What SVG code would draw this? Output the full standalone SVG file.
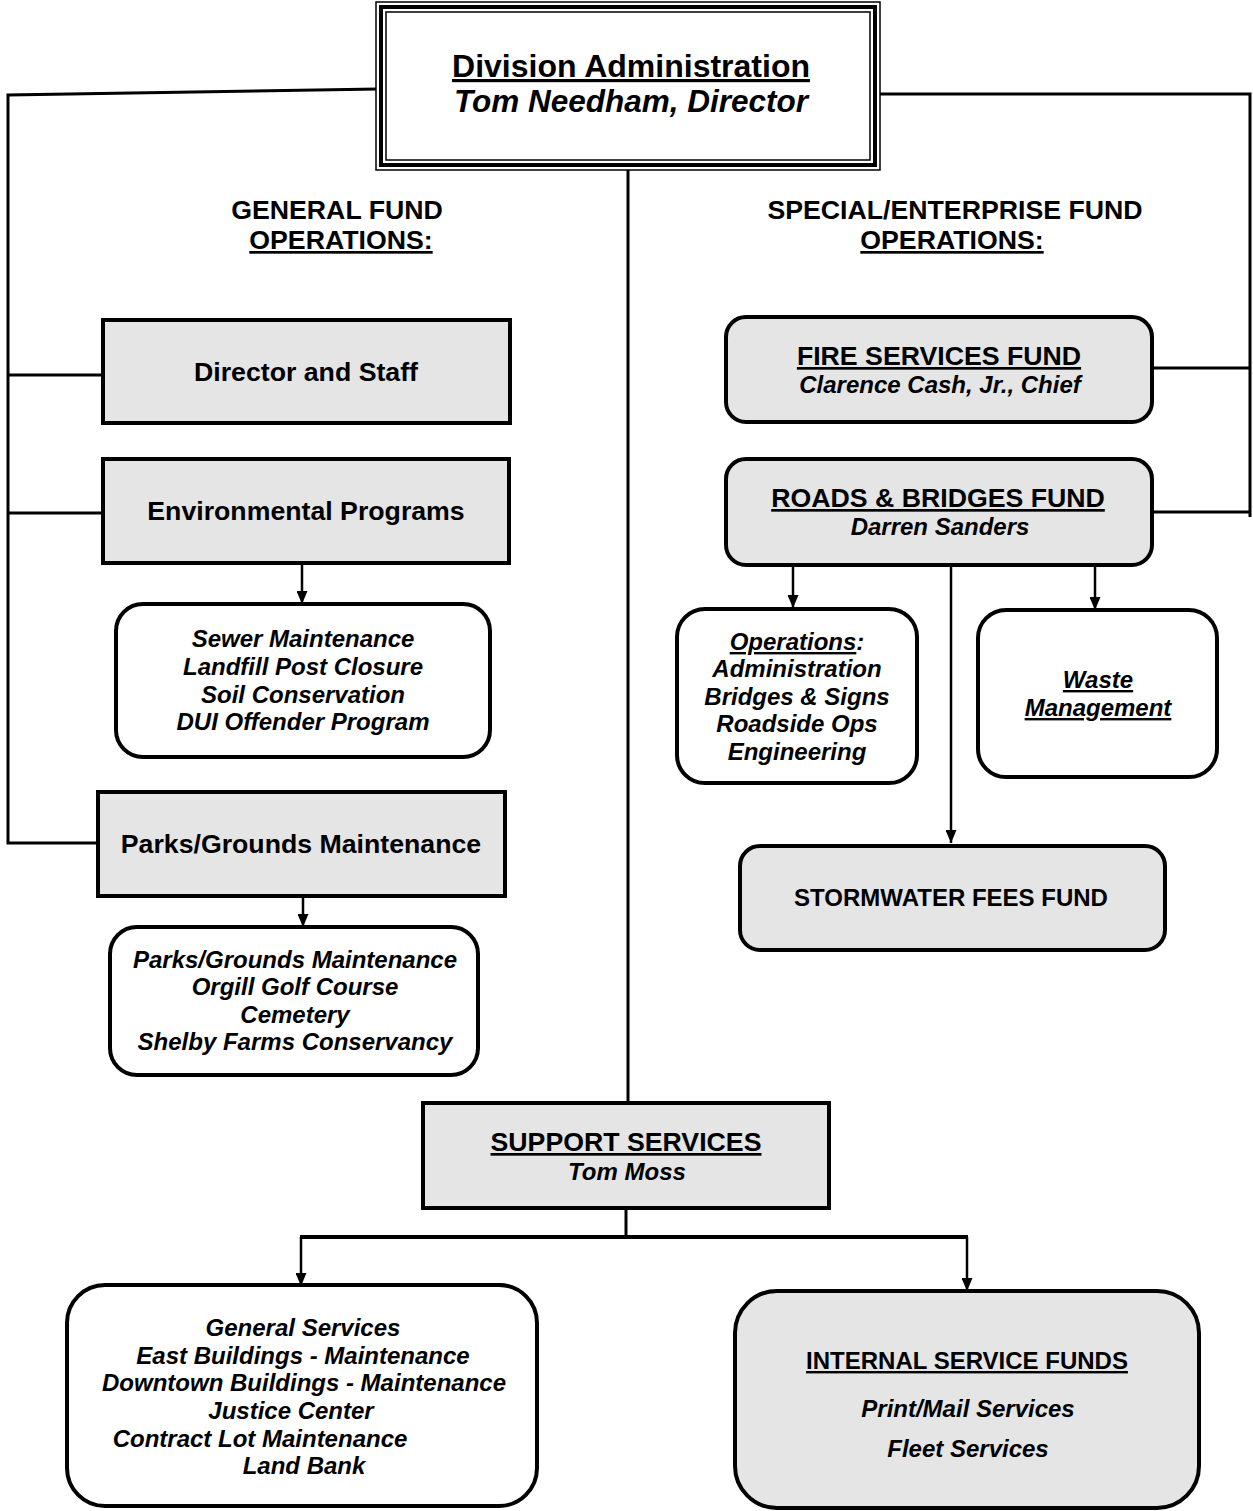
<svg xmlns="http://www.w3.org/2000/svg" width="1253" height="1511" viewBox="0 0 1253 1511">
<defs>
<marker id="ah" markerWidth="13" markerHeight="11" refX="13" refY="5.5" orient="auto" markerUnits="userSpaceOnUse" viewBox="0 0 13 11">
<path d="M0,0 L13,5.5 L0,11 Z" fill="#000"/>
</marker>
</defs>
<style>
text{font-family:"Liberation Sans",Arial,sans-serif;font-weight:bold;fill:#000;text-anchor:middle}
.it{font-style:italic}
.u{text-decoration:underline}
.box{fill:#e5e5e5;stroke:#000;stroke-width:4}
.wbox{fill:#fff;stroke:#000;stroke-width:4}
.ln{fill:none;stroke:#000;stroke-width:3}
.ar{fill:none;stroke:#000;stroke-width:2.5;marker-end:url(#ah)}
.t{font-size:26.7px}
.s{font-size:24px}
</style>
<rect width="1253" height="1511" fill="#fff"/>
<g id="connectors">
<polyline class="ln" points="378,89 8,95 8,843 98,843"/>
<line class="ln" x1="8" y1="375" x2="103" y2="375"/>
<line class="ln" x1="8" y1="513" x2="103" y2="513"/>
<polyline class="ln" points="880,94 1250,94 1250,517"/>
<line class="ln" x1="1152" y1="368" x2="1250" y2="368"/>
<line class="ln" x1="1152" y1="512" x2="1250" y2="512"/>
<line class="ln" x1="628" y1="170" x2="628" y2="1103"/>
<line class="ar" x1="302" y1="563" x2="302" y2="604"/>
<line class="ar" x1="303" y1="896" x2="303" y2="927"/>
<line class="ar" x1="793" y1="567" x2="793" y2="608"/>
<line class="ar" x1="1095" y1="567" x2="1095" y2="610"/>
<line class="ar" x1="951" y1="565" x2="951" y2="843"/>
<line class="ln" x1="626" y1="1208" x2="626" y2="1238"/>
<line class="ln" x1="300" y1="1237" x2="968" y2="1237" style="stroke-width:4"/>
<line class="ar" x1="301" y1="1237" x2="301" y2="1286"/>
<line class="ar" x1="967" y1="1237" x2="967" y2="1291"/>
</g>
<g id="division-admin">
<rect x="376" y="2" width="504" height="168" fill="#fff" stroke="#000" stroke-width="1.5"/>
<rect x="381" y="7" width="494" height="158" fill="none" stroke="#000" stroke-width="4"/>
<rect x="386" y="12" width="484" height="148" fill="none" stroke="#000" stroke-width="1.5"/>
<text x="631" y="77" font-size="32" class="u">Division Administration</text>
<text x="631" y="112" font-size="31.5" class="it">Tom Needham, Director</text>
</g>
<g id="heading-general">
<text x="337" y="219" class="t">GENERAL FUND</text>
<text x="341" y="249" class="t u">OPERATIONS:</text>
</g>
<g id="heading-special">
<text x="955" y="219" class="t">SPECIAL/ENTERPRISE FUND</text>
<text x="952" y="249" class="t u">OPERATIONS:</text>
</g>
<g id="director-staff">
<rect class="box" x="103" y="320" width="407" height="103"/>
<text x="306" y="381" class="t">Director and Staff</text>
</g>
<g id="environmental">
<rect class="box" x="103" y="459" width="406" height="104"/>
<text x="306" y="520" class="t">Environmental Programs</text>
</g>
<g id="env-sub">
<rect class="wbox" x="116" y="604" width="374" height="153" rx="27"/>
<text class="it s" x="303" y="647">Sewer Maintenance</text>
<text class="it s" x="303" y="675">Landfill Post Closure</text>
<text class="it s" x="303" y="703">Soil Conservation</text>
<text class="it s" x="303" y="730">DUI Offender Program</text>
</g>
<g id="parks">
<rect class="box" x="98" y="792" width="407" height="104"/>
<text x="301" y="853" class="t">Parks/Grounds Maintenance</text>
</g>
<g id="parks-sub">
<rect class="wbox" x="110" y="927" width="368" height="148" rx="27"/>
<text class="it s" x="295" y="968">Parks/Grounds Maintenance</text>
<text class="it s" x="295" y="995">Orgill Golf Course</text>
<text class="it s" x="295" y="1023">Cemetery</text>
<text class="it s" x="295" y="1050">Shelby Farms Conservancy</text>
</g>
<g id="fire">
<rect class="box" x="726" y="317" width="426" height="105" rx="20"/>
<text x="939" y="365" class="t u">FIRE SERVICES FUND</text>
<text x="940" y="393" class="s it">Clarence Cash, Jr., Chief</text>
</g>
<g id="roads">
<rect class="box" x="726" y="459" width="426" height="106" rx="20"/>
<text x="938" y="507" class="t u">ROADS &amp; BRIDGES FUND</text>
<text x="940" y="535" class="s it">Darren Sanders</text>
</g>
<g id="operations">
<rect class="wbox" x="677" y="609" width="240" height="174" rx="28"/>
<text class="it s" x="797" y="650"><tspan class="u">Operations</tspan>:</text>
<text class="it s" x="797" y="677">Administration</text>
<text class="it s" x="797" y="705">Bridges &amp; Signs</text>
<text class="it s" x="797" y="732">Roadside Ops</text>
<text class="it s" x="797" y="760">Engineering</text>
</g>
<g id="waste">
<rect class="wbox" x="978" y="610" width="239" height="167" rx="28"/>
<text class="it u s" x="1098" y="688">Waste</text>
<text class="it u s" x="1098" y="716">Management</text>
</g>
<g id="stormwater">
<rect class="box" x="740" y="846" width="425" height="104" rx="20"/>
<text x="951" y="906" class="s">STORMWATER FEES FUND</text>
</g>
<g id="support">
<rect class="box" x="423" y="1103" width="406" height="105"/>
<text x="626" y="1151" class="t u">SUPPORT SERVICES</text>
<text x="627" y="1180" class="s it">Tom Moss</text>
</g>
<g id="general-services">
<rect class="wbox" x="67" y="1285" width="470" height="221" rx="38"/>
<text class="it s" x="303" y="1336">General Services</text>
<text class="it s" x="303" y="1364">East Buildings - Maintenance</text>
<text class="it s" x="304" y="1391">Downtown Buildings - Maintenance</text>
<text class="it s" x="291" y="1419">Justice Center</text>
<text class="it s" x="260" y="1447">Contract Lot Maintenance</text>
<text class="it s" x="304" y="1474">Land Bank</text>
</g>
<g id="internal-service">
<rect class="box" x="735" y="1291" width="464" height="217" rx="42"/>
<text x="967" y="1369" class="s u">INTERNAL SERVICE FUNDS</text>
<text x="968" y="1417" class="s it">Print/Mail Services</text>
<text x="968" y="1457" class="s it">Fleet Services</text>
</g>
</svg>
